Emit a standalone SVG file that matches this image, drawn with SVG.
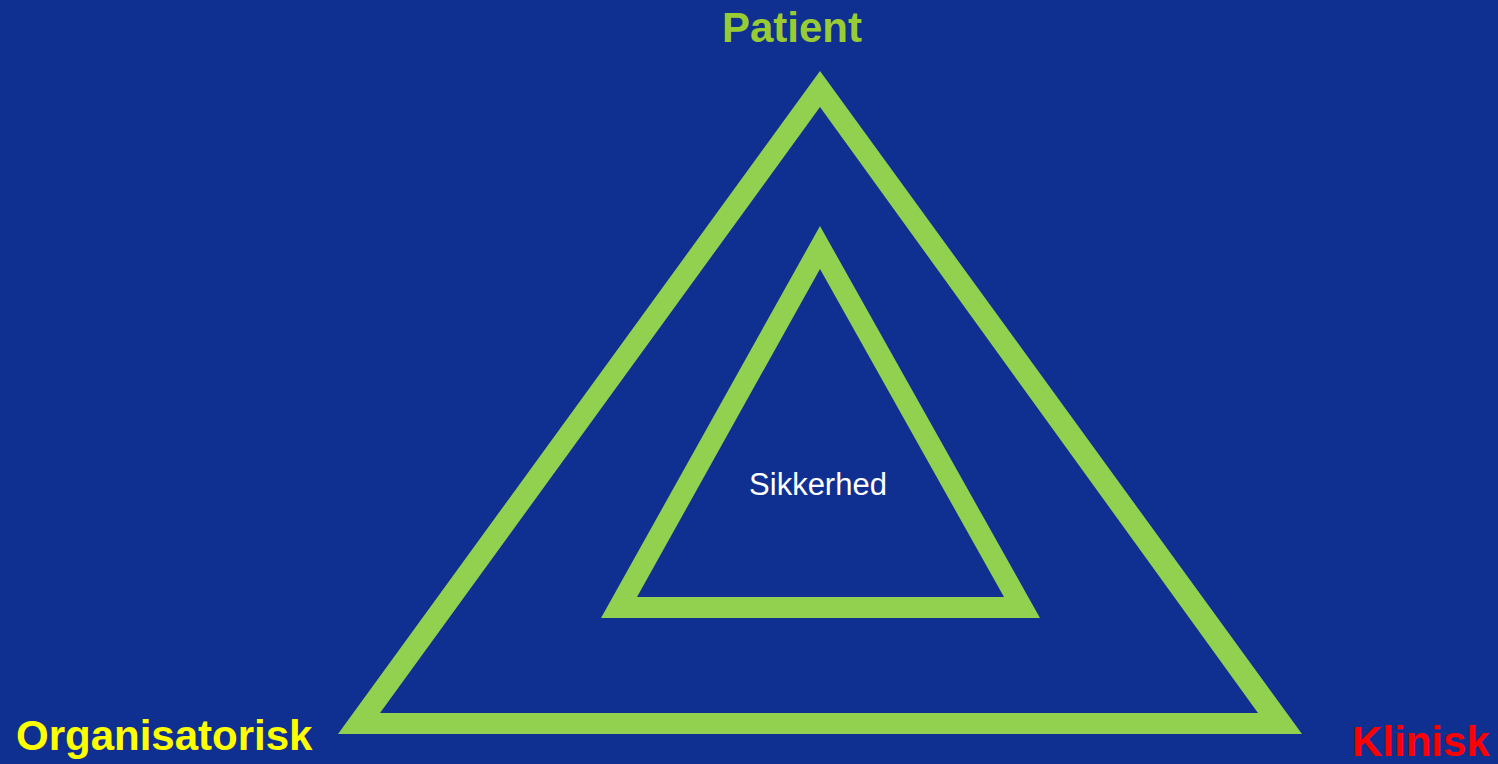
<svg xmlns="http://www.w3.org/2000/svg" width="1498" height="764" viewBox="0 0 1498 764">
  <style>
    .tri { fill: #92D050; fill-rule: evenodd; }
    .lbl { font-family: "Liberation Sans", Arial, sans-serif; font-weight: bold; font-size: 42px; }
  </style>
  <rect x="0" y="0" width="1498" height="764" fill="#0F3091"/>
  <g id="outer-triangle">
    <path class="tri" d="M820,71 L338,734 L1302,734 Z M820,107 L380,713 L1258,713 Z"/>
  </g>
  <g id="inner-triangle">
    <path class="tri" d="M820,226 L601,618 L1040,618 Z M820,269 L637,597 L1004,597 Z"/>
    <text x="818" y="495" text-anchor="middle" font-family="Liberation Sans, Arial, sans-serif" font-size="31" fill="#FFFFFF">Sikkerhed</text>
  </g>
  <g id="patient">
    <text class="lbl" x="792" y="42" text-anchor="middle" fill="#99CC33">Patient</text>
  </g>
  <g id="organisatorisk">
    <text class="lbl" x="16" y="750" fill="#FFFF00">Organisatorisk</text>
  </g>
  <g id="klinisk">
    <text class="lbl" x="1352" y="756" fill="#FF0000">Klinisk</text>
  </g>
  <g id="connectors"></g>
</svg>
